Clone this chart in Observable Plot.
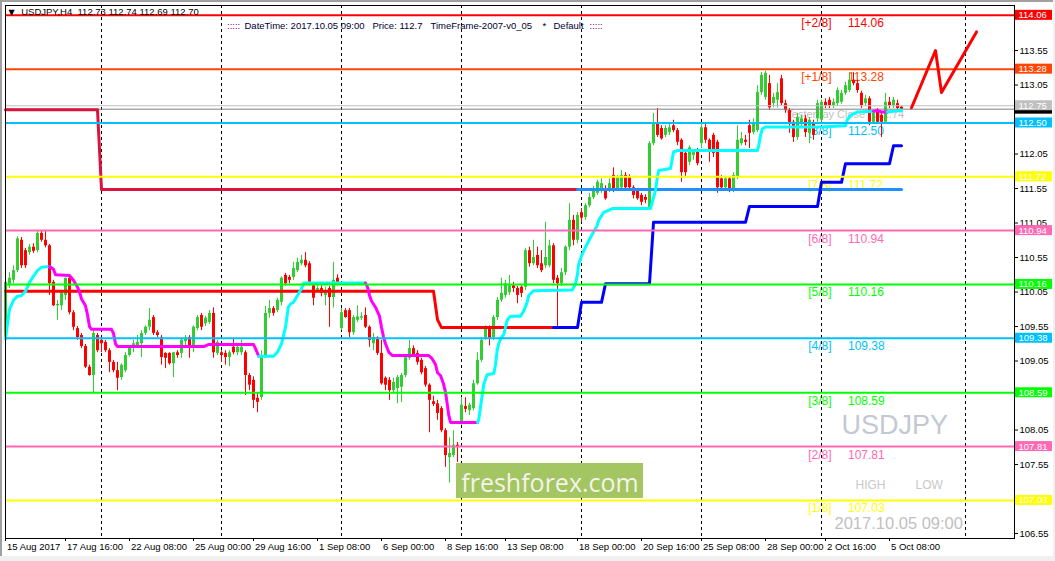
<!DOCTYPE html>
<html><head><meta charset="utf-8">
<script src="https://cdn.jsdelivr.net/npm/d3@7"></script>
<script src="https://cdn.jsdelivr.net/npm/@observablehq/plot@0.6"></script>
<style>
html,body{margin:0;padding:0;background:#fff;}
#wrap{position:relative;width:1055px;height:561px;overflow:hidden;background:#fff;}
#wrap svg{position:absolute;left:0;top:0;}
.edge{position:absolute;}
</style></head><body><div id="wrap"></div>
<script>
// ---------------- data ----------------
const ohlcOpen = [
109.39,110.14,110.22,110.36,110.80,110.65,110.62,110.70,110.65,110.90,
110.80,110.72,110.19,109.85,109.85,110.00,110.25,109.75,109.52,109.42,
109.26,108.96,108.84,109.42,109.35,109.32,109.20,109.03,108.91,108.81,
108.91,109.13,109.25,109.27,109.30,109.45,109.54,109.68,109.46,109.39,
109.16,109.16,109.01,109.17,109.16,109.33,109.39,109.23,109.52,109.71,
109.59,109.61,109.74,109.16,109.17,109.16,109.10,109.25,109.17,109.17,
109.17,108.84,108.77,108.51,108.52,109.10,109.74,109.81,109.78,109.90,
110.29,110.26,110.26,110.36,110.46,110.51,110.46,110.14,110.07,110.10,
110.00,110.10,109.97,110.25,109.52,109.78,109.78,109.46,109.64,109.67,
109.71,109.54,109.30,109.38,109.16,108.80,108.77,108.62,108.65,108.67,
108.84,109.09,109.23,109.16,109.06,108.94,108.70,108.46,108.43,108.36,
108.04,107.65,107.68,107.83,108.16,108.39,108.33,108.36,108.72,109.06,
109.38,109.54,109.39,109.68,109.93,110.00,110.04,110.14,110.10,110.12,
110.12,110.65,110.46,110.58,110.46,110.43,110.43,110.72,110.25,110.17,
110.33,110.70,111.09,110.80,111.20,111.13,111.30,111.42,111.48,111.52,
111.55,111.52,111.74,111.55,111.56,111.74,111.71,111.56,111.52,111.45,
111.42,111.27,112.20,112.49,112.42,112.32,112.36,112.46,112.39,112.25,
112.06,111.93,112.03,112.10,112.20,112.43,112.25,112.32,112.22,111.69,
111.56,111.69,111.52,111.71,112.20,112.25,112.46,112.36,112.39,112.94,
112.87,113.07,112.78,112.83,113.14,112.78,112.68,112.51,112.29,112.49,
112.56,112.35,112.49,112.56,112.54,112.80,112.83,112.75,112.78,112.80,
112.93,112.97,113.12,113.07,112.93,112.78,112.85,112.51,112.68,112.61,
112.51,112.80,112.75,112.78,112.73];
const ohlcHigh = [
110.22,110.33,110.43,110.85,110.84,110.68,110.74,110.75,110.94,110.93,
110.93,110.74,110.22,109.93,110.07,110.25,110.27,109.78,109.55,109.45,
109.29,108.99,109.49,109.45,109.38,109.35,109.23,109.06,109.03,109.01,
109.17,109.27,109.35,109.42,109.49,109.56,109.81,109.71,109.49,109.42,
109.17,109.17,109.17,109.20,109.38,109.42,109.42,109.56,109.71,109.74,
109.70,109.78,109.82,109.35,109.20,109.20,109.20,109.38,109.27,109.35,
109.20,108.87,108.82,108.58,109.20,109.84,109.93,109.84,109.96,110.27,
110.32,110.29,110.48,110.54,110.58,110.62,110.49,110.17,110.14,110.14,
110.12,110.13,110.48,110.30,109.81,109.81,109.81,109.71,109.85,109.75,
109.82,109.56,109.45,109.40,109.35,108.82,108.81,108.80,108.84,108.87,
109.13,109.35,109.27,109.20,109.09,108.97,108.72,108.54,108.48,108.39,
108.07,107.94,108.04,107.87,108.52,108.52,108.44,108.77,109.17,109.39,
109.56,109.56,109.71,109.97,110.25,110.22,110.29,110.19,110.13,110.14,
110.68,110.70,110.80,110.70,110.65,111.06,110.80,110.75,110.29,110.39,
110.72,111.33,111.16,111.20,111.26,111.33,111.48,111.58,111.67,111.69,
111.59,111.69,111.85,111.74,111.81,111.78,111.75,111.59,111.55,111.48,
111.46,112.23,112.64,112.71,112.46,112.46,112.51,112.54,112.42,112.27,
112.10,112.17,112.10,112.13,112.49,112.48,112.27,112.35,112.25,111.74,
111.72,111.72,111.78,112.46,112.36,112.32,112.54,112.56,113.04,113.23,
113.25,113.19,112.93,113.07,113.19,112.83,112.71,112.54,112.64,112.61,
112.61,112.58,112.54,112.83,112.83,112.85,112.87,112.85,113.01,112.97,
113.09,113.23,113.23,113.12,112.96,112.90,112.88,112.68,112.71,112.64,
112.93,112.87,112.87,112.83,112.74];
const ohlcLow = [
109.35,110.10,110.17,110.33,110.39,110.39,110.58,110.61,110.62,110.77,
110.69,110.00,109.84,109.64,109.78,109.93,109.72,109.49,109.35,109.23,
108.94,108.83,108.59,109.17,109.17,109.17,108.88,108.88,108.62,108.77,
108.88,109.11,109.17,109.25,109.10,109.42,109.49,109.42,109.39,108.99,
108.94,108.99,108.81,109.09,109.09,109.27,109.09,109.17,109.49,109.49,
109.55,109.58,109.09,109.13,109.03,108.99,108.97,109.14,109.13,109.13,
108.55,108.62,108.36,108.30,108.48,109.09,109.67,109.70,109.75,109.85,
110.14,110.17,110.22,110.33,110.43,110.40,110.14,109.85,110.04,109.98,
109.85,109.54,109.82,110.14,109.49,109.67,109.39,109.42,109.61,109.64,
109.52,109.25,109.20,109.13,108.70,108.62,108.48,108.59,108.43,108.45,
108.81,109.06,109.10,108.99,108.85,108.67,108.01,108.39,108.19,108.01,
107.51,107.28,107.65,107.58,108.12,108.30,108.26,108.33,108.70,109.03,
109.35,109.27,109.35,109.64,109.90,109.96,110.00,110.04,109.88,109.97,
110.07,110.41,110.43,110.39,110.33,110.39,110.40,110.17,109.54,110.13,
110.29,110.65,110.72,110.75,111.06,111.09,111.27,111.39,111.45,111.48,
111.38,111.49,111.49,111.52,111.52,111.52,111.52,111.40,111.38,111.30,
111.33,111.26,112.17,112.29,112.25,112.29,112.32,112.36,112.17,111.64,
111.72,111.88,111.96,111.88,112.13,112.20,111.93,112.00,111.48,111.52,
111.52,111.49,111.49,111.68,112.17,112.17,112.13,112.33,112.36,112.90,
112.83,112.68,112.72,112.72,112.75,112.64,112.35,112.22,112.25,112.43,
112.29,112.20,112.25,112.51,112.51,112.71,112.71,112.71,112.74,112.77,
112.90,112.94,113.04,112.93,112.71,112.74,112.46,112.48,112.48,112.29,
112.48,112.71,112.71,112.68,112.69];
const ohlcClose = [
110.19,110.25,110.36,110.82,110.43,110.43,110.70,110.64,110.90,110.80,
110.72,110.17,109.85,109.87,110.03,110.25,109.75,109.54,109.39,109.26,
108.96,108.84,109.45,109.20,109.30,109.20,109.03,108.91,108.80,108.99,
109.13,109.25,109.30,109.32,109.45,109.54,109.64,109.45,109.42,109.10,
109.09,109.01,109.17,109.13,109.35,109.38,109.27,109.54,109.68,109.54,
109.67,109.74,109.17,109.32,109.13,109.10,109.17,109.17,109.25,109.25,
108.84,108.70,108.48,108.45,109.13,109.74,109.81,109.74,109.93,110.25,
110.17,110.22,110.39,110.48,110.51,110.43,110.19,109.96,110.10,110.03,
110.07,109.97,110.22,110.17,109.75,109.68,109.46,109.68,109.69,109.69,
109.54,109.35,109.39,109.16,108.72,108.70,108.62,108.74,108.81,108.84,
109.10,109.23,109.13,109.03,108.88,108.70,108.48,108.42,108.29,108.04,
107.68,107.71,107.83,107.80,108.41,108.35,108.41,108.72,109.06,109.35,
109.52,109.38,109.68,109.93,110.03,110.17,110.14,110.10,110.00,110.03,
110.65,110.46,110.55,110.43,110.36,110.55,110.72,110.22,110.17,110.33,
110.70,111.09,110.80,111.16,111.12,111.30,111.42,111.52,111.64,111.62,
111.40,111.62,111.52,111.70,111.74,111.56,111.56,111.45,111.40,111.35,
111.38,112.20,112.49,112.32,112.27,112.42,112.43,112.39,112.22,111.78,
111.78,112.14,112.07,111.91,112.43,112.25,112.10,112.06,111.56,111.56,
111.69,111.55,111.74,112.25,112.27,112.22,112.35,112.49,112.94,113.19,
113.22,112.72,112.87,112.94,112.78,112.68,112.49,112.29,112.58,112.56,
112.36,112.54,112.32,112.78,112.80,112.75,112.75,112.80,112.97,112.93,
113.04,113.12,113.07,112.97,112.75,112.85,112.51,112.64,112.51,112.51,
112.80,112.75,112.83,112.71,112.70];

const timeLabels = ["15 Aug 2017","17 Aug 16:00","22 Aug 08:00","25 Aug 00:00","29 Aug 16:00","1 Sep 08:00","6 Sep 00:00","8 Sep 16:00","13 Sep 08:00","18 Sep 00:00","20 Sep 16:00","25 Sep 08:00","28 Sep 00:00","2 Oct 16:00","5 Oct 08:00"];
const timeLabelBars = [0,15,31,47,62,78,94,110,125,143,159,174,190,205,221];
const weekSeparatorBars = [24,54,84,114,144,174,204,240];
const priceTicks = [106.55,107.05,107.55,108.05,108.55,109.05,109.55,110.05,110.55,111.05,111.55,112.05,112.55,113.05,113.55,114.05];

const murreyNames = ["[+2/8]","[+1/8]","[8/8]","[7/8]","[6/8]","[5/8]","[4/8]","[3/8]","[2/8]","[1/8]"];
const murreyLevels = [114.06,113.28,112.50,111.72,110.94,110.16,109.38,108.59,107.81,107.03];
const yesterdayClose = 112.75;
const bidPrice = 112.70;

// step trend lines [bar, price]
const trendDown = [[0,110.06],[107,110.06],[108,109.65],[109,109.535],[137,109.535]];
const trendUp = [[137,109.535],[143,109.535],[144,109.90],[149,109.90],[150,110.17],[161,110.17],[162,111.06],[185,111.06],[186,111.29],[203,111.29],[204,111.64],[209,111.64],[210,111.91],[221,111.91],[222,112.17],[224,112.17]];
const stopDown = [[0,112.69],[23,112.69],[24,111.535],[143,111.535]];
const stopUp = [[143,111.535],[224,111.535]];
// smoothed channel line: [bar, price, direction u/d]
const channelLine = [
[0,109.37,"u"],[1,109.80,"u"],[2,109.93,"u"],[3,109.99,"u"],[4,110.00,"u"],[5,110.06,"u"],[6,110.19,"u"],[7,110.28,"u"],[8,110.36,"u"],[9,110.41,"u"],[11,110.42,"u"],
[12,110.38,"d"],[12.5,110.30,"d"],[16,110.29,"d"],[17,110.22,"d"],[18,110.12,"d"],[18.5,110.05,"d"],[19,109.95,"d"],[20,109.85,"d"],[20.5,109.72,"d"],[21,109.55,"d"],[21.5,109.51,"d"],[26.5,109.51,"d"],[27,109.45,"d"],[27.5,109.30,"d"],[28,109.26,"d"],[49.6,109.26,"d"],[50.8,109.29,"d"],[62,109.29,"d"],[62.5,109.23,"d"],[63.3,109.12,"d"],
[67,109.12,"u"],[68,109.18,"u"],[69,109.30,"u"],[70,109.54,"u"],[70.7,109.83,"u"],[71.3,109.88,"u"],[72,109.90,"u"],[73,110.00,"u"],[74,110.10,"u"],[74.6,110.18,"u"],[90,110.18,"u"],
[90.5,110.12,"d"],[91,110.00,"d"],[91.5,109.92,"d"],[92.5,109.83,"d"],[93.5,109.70,"d"],[94,109.54,"d"],[94.5,109.40,"d"],[95,109.30,"d"],[95.8,109.18,"d"],[96.7,109.13,"d"],[105.8,109.13,"d"],[106.7,109.08,"d"],[107.5,109.00,"d"],[108,108.88,"d"],[108.75,108.84,"d"],[109.5,108.72,"d"],[110,108.60,"d"],[110.4,108.44,"d"],[110.8,108.27,"d"],[111.25,108.16,"d"],[118,108.16,"d"],
[118.3,108.20,"u"],[118.75,108.38,"u"],[119.2,108.57,"u"],[119.6,108.72,"u"],[120.4,108.85,"u"],[122.1,108.87,"u"],[122.5,109.00,"u"],[122.9,109.20,"u"],[123.3,109.30,"u"],[123.75,109.37,"u"],[124.6,109.44,"u"],[125.4,109.64,"u"],[126.25,109.70,"u"],[128.75,109.70,"u"],[129.6,109.78,"u"],[130.4,109.90,"u"],[130.8,110.00,"u"],[132,110.07,"u"],[141.7,110.08,"u"],[142.5,110.17,"u"],[143,110.31,"u"],[143.3,110.46,"u"],[144.2,110.60,"u"],[145,110.70,"u"],[146.25,110.84,"u"],[147,110.92,"u"],[147.9,111.01,"u"],[148.3,111.09,"u"],[149.5,111.20,"u"],[151.7,111.26,"u"],[161.25,111.26,"u"],[162.5,111.52,"u"],[162.9,111.69,"u"],[163.3,111.81,"u"],[166.25,111.84,"u"],[167,112.08,"u"],[168,112.10,"u"],[188,112.10,"u"],[188.3,112.17,"u"],[188.75,112.32,"u"],[189.2,112.415,"u"],[190,112.44,"u"],[203.75,112.44,"u"],[210,112.46,"u"],[210.4,112.54,"u"],[211.25,112.61,"u"],[213,112.66,"u"],[217,112.67,"u"],
[218,112.68,"d"],[219,112.66,"d"],[220.4,112.66,"d"],
[224,112.68,"u"]];
const forecastPath = [[226.5,112.72],[232.5,113.55],[234,112.94],[242.75,113.82]];

const headerTitle = "USDJPY,H4  112.73 112.74 112.69 112.70";
const headerParts = [":::::","DateTime: 2017.10.05 09:00","Price: 112.7","TimeFrame-2007-v0_05","*","Default",":::::"];

// ---------------- styles / layout ----------------
const murreyColors = ["#FF0000","#FF4500","#00BFFF","#FFFF00","#FF69B4","#00FF00","#00BFFF","#00FF00","#FF69B4","#FFFF00"];
const bull = "#32CD32", bear = "#FF0000";
const W = 1055, H = 561, mL = 5, mR = 41, mT = 5, mB = 23;
const pxPerBar = 4, pxPerUnit = 69;
const xMax = (W - mL - mR) / pxPerBar;
const yTop = 114.2025, yBot = yTop - (H - mT - mB) / pxPerUnit;
const px2x = px => (px - mL) / pxPerBar;
const py2y = py => yTop - (py - mT) / pxPerUnit;
const headerX = [226.5,244,372,430,542,553,589];
const headerFill = ["#800080","#000033","#000033","#000033","#000033","#000033","#800080"];
const sans = "'Liberation Sans', Arial, sans-serif";

const bars = ohlcOpen.map((o, i) => ({i, o, h: ohlcHigh[i], l: ohlcLow[i], c: ohlcClose[i]}));
const barColor = d => d.c >= d.o ? bull : bear;

// channel line runs
const runs = [];
let runId = 0;
for (let j = 1; j < channelLine.length; j++) {
  const p = channelLine[j - 1], q = channelLine[j];
  if (j > 1 && q[2] !== channelLine[j - 1][2]) runId++;
  runs.push({x: p[0], y: p[1], run: runId, col: q[2] === "u" ? "#00FFFF" : "#FF00FF"});
  runs.push({x: q[0], y: q[1], run: runId, col: q[2] === "u" ? "#00FFFF" : "#FF00FF"});
}

const labelBoxes = [
  ...murreyLevels.map((v, i) => ({v, fill: murreyColors[i]})),
  {v: yesterdayClose, fill: "#C0C0C0"}
];
// axis tick labels that sit under a price box are hidden (as on the terminal)
const hiddenTick = t => labelBoxes.some(b => Math.abs(b.v - t) < 0.09);

const pxText = (txt, px, py, opts) => Plot.text([txt], {x: () => px2x(px), y: () => py2y(py), textAnchor: "start", lineAnchor: "bottom", fontFamily: sans, ...opts});

const chart = Plot.plot({
  width: W, height: H,
  marginLeft: mL, marginRight: mR, marginTop: mT, marginBottom: mB,
  x: {domain: [0, xMax], axis: null},
  y: {domain: [yBot, yTop], axis: null},
  color: {type: "identity"},
  style: {fontFamily: sans, fontSize: "9.5px", background: "white", overflow: "visible", color: "black"},
  marks: [
    // watermarks and texts behind
    pxText("USDJPY", 841, 433, {fontSize: 27, fill: "#C2C9D3"}),
    pxText("HIGH", 855, 488, {fontSize: 12, fill: "#C8C8C8"}),
    pxText("LOW", 915, 488, {fontSize: 12, fill: "#C8C8C8"}),
    pxText("2017.10.05 09:00", 834, 528, {fontSize: 16.5, fill: "#C0C0C0"}),
    pxText("Yesterday Close  112.74", 785, 117, {fontSize: 11, fill: "#C0C0C0"}),
    Plot.text(murreyLevels, {x: () => px2x(831), y: d => d, text: (d, i) => murreyNames[i], fill: (d, i) => murreyColors[i], textAnchor: "end", lineAnchor: "bottom", dy: 12, fontSize: 12, fontFamily: sans}),
    Plot.text(murreyLevels, {x: () => px2x(847.5), y: d => d, text: d => d.toFixed(2), fill: (d, i) => murreyColors[i], textAnchor: "start", lineAnchor: "bottom", dy: 12, fontSize: 12, fontFamily: sans}),
    // week separators
    Plot.ruleX(weekSeparatorBars, {x: d => d, stroke: "black", strokeDasharray: "3,3", strokeWidth: 1}),
    // candles
    Plot.ruleX(bars, {x: "i", y1: "l", y2: "h", stroke: barColor, strokeWidth: 1}),
    Plot.ruleX(bars, {x: "i", y1: "o", y2: "c", stroke: barColor, strokeWidth: 3}),
    // price lines
    Plot.ruleY([yesterdayClose], {y: d => d, stroke: "#C0C0C0", strokeWidth: 1}),
    Plot.ruleY([bidPrice], {y: d => d, stroke: "#808080", strokeWidth: 1}),
    // stop & trend step lines
    Plot.line(stopDown, {x: d => d[0], y: d => d[1], stroke: "#DC143C", strokeWidth: 3}),
    Plot.line(stopUp, {x: d => d[0], y: d => d[1], stroke: "#1E90FF", strokeWidth: 3}),
    Plot.line(trendDown, {x: d => d[0], y: d => d[1], stroke: "#FF0000", strokeWidth: 3}),
    Plot.line(trendUp, {x: d => d[0], y: d => d[1], stroke: "#0000FF", strokeWidth: 3}),
    Plot.line(runs, {x: "x", y: "y", z: "run", stroke: "col", strokeWidth: 3}),
    // Murrey levels
    Plot.ruleY(murreyLevels, {y: d => d, stroke: (d, i) => murreyColors[i], strokeWidth: 2}),
    // forecast
    Plot.line(forecastPath, {x: d => d[0], y: d => d[1], stroke: "#FF0000", strokeWidth: 3}),
    // freshforex badge
    Plot.rect([0], {x1: () => px2x(456), x2: () => px2x(643), y1: () => py2y(463), y2: () => py2y(498), fill: "#A3C562"}),
    Plot.text(["freshforex.com"], {x: () => px2x(549.5), y: () => py2y(491), textAnchor: "middle", lineAnchor: "bottom", fontSize: 25, fontFamily: "'Open Sans', sans-serif", fill: "#F4F4EA"}),
    // header
    Plot.text(["\u25BC"], {frameAnchor: "top-left", dx: 3, dy: 9.5, lineAnchor: "bottom", textAnchor: "start", fontSize: 8, fontFamily: "'DejaVu Sans', sans-serif", fill: "black"}),
    Plot.text([headerTitle], {frameAnchor: "top-left", dx: 15.7, dy: 9.5, lineAnchor: "bottom", textAnchor: "start", fontSize: 9.5, fill: "black", style: "white-space:pre"}),
    Plot.text(headerParts, {x: (d, i) => px2x(headerX[i]), frameAnchor: "top", dy: 23.5, lineAnchor: "bottom", textAnchor: "start", fontSize: 9.5, fill: (d, i) => headerFill[i]}),
    Plot.frame({stroke: "black"}),
    // axes
    Plot.axisY(priceTicks, {anchor: "right", tickSize: 3, tickPadding: 2, tickFormat: d => hiddenTick(d) ? "" : d.toFixed(2), fontSize: 9.5}),
    Plot.axisX(timeLabelBars, {anchor: "bottom", tickSize: 3, tickFormat: () => ""}),
    Plot.text(timeLabelBars, {x: d => d, frameAnchor: "bottom", dy: 4.5, dx: 1.5, lineAnchor: "top", textAnchor: "start", text: (d, i) => timeLabels[i], fontSize: 9.5, fill: "black"}),
    // right price boxes (bid box first, mostly covered by the yesterday-close box)
    Plot.rect([bidPrice], {x1: () => xMax, x2: () => xMax, y1: d => d, y2: d => d, insetLeft: 1, insetRight: -38, insetTop: -5, insetBottom: -5, fill: "#000000"}),
    Plot.rect(labelBoxes, {x1: () => xMax, x2: () => xMax, y1: "v", y2: "v", insetLeft: 1, insetRight: -38, insetTop: -5, insetBottom: -5, fill: "fill"}),
    Plot.text(labelBoxes, {x: () => xMax, y: "v", text: d => d.v.toFixed(2), dx: 4, textAnchor: "start", fill: "white", fontSize: 9.5})
  ]
});
const wrap = document.getElementById("wrap");
wrap.appendChild(chart);
// window chrome edges
[["0px","0px","1055px","2px","#A0A0A0"],["0px","0px","2px","561px","#A0A0A0"],["0px","556px","1055px","5px","#F0F0F0"],["1053px","0px","2px","561px","#F0F0F0"]].forEach(([l,t,w,h,c])=>{
  const d = document.createElement("div"); d.className="edge";
  Object.assign(d.style,{left:l,top:t,width:w,height:h,background:c}); wrap.appendChild(d);
});
</script></body></html>
